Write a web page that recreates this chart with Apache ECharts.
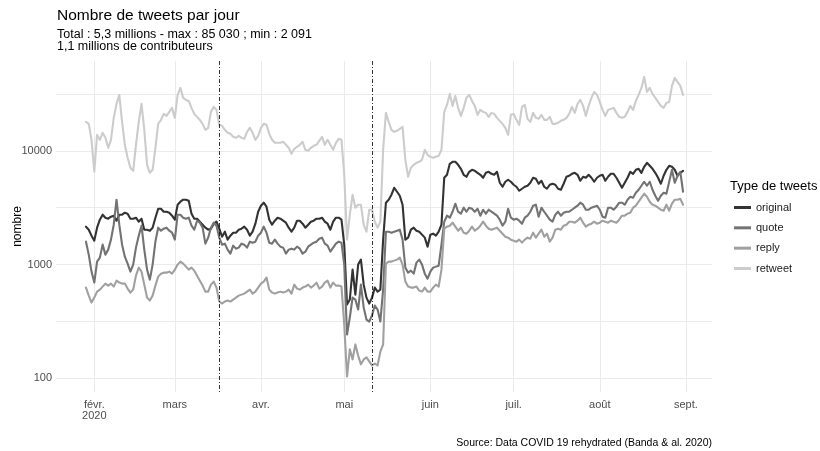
<!DOCTYPE html>
<html>
<head>
<meta charset="utf-8">
<script src="https://cdn.jsdelivr.net/npm/echarts@6/dist/echarts.min.js"></script>
<style>
  html, body { margin: 0; padding: 0; background: #ffffff; }
  #chart { width: 820px; height: 451px; }
</style>
</head>
<body>
<div id="chart"></div>
<script>
// Daily tweet counts per tweet type, starting 2020-01-29
const startDate = [2020, 0, 29];
const typeNames = ['original', 'quote', 'reply', 'retweet'];
const typeColors = ['#333333', '#737373', '#A0A0A0', '#CCCCCC'];

const original = [2154,2027,1796,1624,2111,2481,2744,2583,2531,2636, 2689,2431,2744,2744,2857,2800,2531,2531,2583,2382,
  2531,2027,2027,1987,2111,2583,3097,3097,2915,2915, 2857,2689,2481,3360,3569,3717,3717,3642,2800,2531,
  2531,2382,2242,2111,2027,2069,2288,2382,2069,1760, 1947,1657,1796,1908,1908,2027,2069,2154,2027,1796,
  1947,2288,2915,3293,3498,3227,2481,2242,2431,2583, 2531,2431,2335,2111,1947,2111,2431,2431,2288,2111,
  2242,2382,2431,2531,2531,2583,2382,2288,2027,2382, 2583,2583,2481,1498,446,493,903,545,1000,1106,
  667,513,455,513,628,579,603,1657,3498,3717, 4111,4735,4368,4029,3360,1657,1725,2027,2111,1987,
  1947,1833,1725,1438,1833,1870,1796,1947,2242,5794, 6156,7686,8003,8003,7533,6948,6156,5912,6540,6810,
  6673,6409,6156,5794,6409,6540,6281,6156,6540,5238, 4832,5345,5565,5345,5031,4832,4457,4641,4832,4930,
  5238,5794,5678,5133,5454,4832,4641,5031,5133,5031, 4641,4548,5133,5912,6033,6281,6409,6156,5454,5912,
  5794,6156,5794,5345,5794,6033,6156,5454,5912,6281, 6281,5794,5238,4735,5238,5794,6540,6281,6810,6948,
  6409,7235,7843,7382,6948,6409,5794,5133,6033,6810, 7382,7235,6810,6033,6409,6673];

const quote = [1591,1224,868,695,1063,1152,1498,1224,1354,1657, 2242,3717,2242,1498,1175,1020,868,1000,1410,1796,
  2198,1354,903,738,1000,1591,2111,1987,2069,2111, 1987,1908,1657,2744,2744,2583,2531,2583,2198,2027,
  2431,2335,2111,1528,1725,2111,2335,2198,1725,1498, 1528,1354,1249,1468,1381,1410,1528,1498,1410,1591,
  1559,1591,1796,1908,2154,1908,1559,1528,1657,1528, 1438,1410,1249,1354,1381,1354,1438,1381,1249,1300,
  1438,1498,1559,1591,1690,1725,1528,1468,1300,1410, 1528,1591,1559,1000,243,343,513,493,403,667,
  420,329,316,357,437,403,316,603,1947,1947, 1908,1947,1987,2027,1657,941,850,885,833,1041,
  1106,1000,833,753,868,941,960,979,1498,2382, 2689,2583,2915,3428,2915,2800,3162,2915,3162,3097,
  2915,3097,2689,3035,2800,3035,2915,2800,2689,2481, 2198,2382,3097,2583,2481,2531,2431,2288,2583,2689,
  2915,3293,3360,2636,3162,2915,2689,2481,2382,2744, 2915,2689,2857,2915,2915,3035,3162,3293,3498,3360,
  3035,3035,3162,3227,3293,3035,2636,2583,3162,3162, 3035,3227,3498,3498,3360,3717,3949,3870,4281,4548,
  4930,5345,4930,5345,4548,4029,3642,4029,4281,4195, 5345,6810,5238,6033,6540,4368];

const reply = [628,534,464,513,579,603,641,681,654,681, 641,723,695,681,681,616,568,603,800,941,
  868,667,513,483,534,654,784,833,850,850, 868,833,903,1000,1063,1020,960,903,941,885,
  800,723,654,579,579,667,709,628,474,455, 474,483,474,493,513,534,545,556,579,603,
  556,579,628,681,709,769,603,568,556,568, 579,568,579,603,556,667,616,603,628,641,
  667,628,654,695,616,641,695,723,628,695, 654,654,641,297,104,180,147,199,159,133,
  147,153,141,130,135,130,172,199,1020,1063, 1063,1084,1106,1152,1000,709,641,628,628,641,
  591,579,628,579,579,628,667,641,903,2069, 2154,2198,2335,2154,1987,2111,1908,1870,1987,2154,
  1987,2069,2198,2382,2198,2069,2027,2069,2111,1987, 1870,1760,1725,1657,1624,1591,1657,1559,1657,1725,
  1690,1908,1725,1870,2027,1760,1870,1591,1725,2027, 2069,2027,2198,2242,2382,2382,2335,2431,2583,2335,
  2154,2242,2288,2382,2288,2335,2431,2382,2335,2431, 2382,2335,2481,2689,2689,2800,2857,3162,3293,3569,
  3870,4195,3949,3569,3360,3293,3162,3035,2975,3360, 2975,3428,3717,3717,3792,3360];

const retweet = [17959,17248,12487,6540,13813,12487,14382,13001,10625,12487, 19469,25828,30973,17959,11288,8676,7090,6673,11288,17959,
  25828,15281,7533,6409,6810,10625,17248,18699,21107,20272, 21976,23824,19469,30973,35694,29153,28000,27440,23824,21107,
  19866,18699,17248,15281,15910,21976,24310,22882,16904,16566, 15281,14382,14095,13267,13001,13537,13001,12742,14676,15910,
  14382,12487,13537,15910,17248,16904,14095,12487,11753,11753, 11753,11993,11288,10625,9405,10412,10841,11288,11993,10204,
  10000,10625,11062,11288,12237,13267,11288,12487,11288,10204, 11753,12742,12487,6156,1657,2744,4111,3162,3360,3360,
  2242,1947,3035,3035,2382,2111,2382,10204,21537,17959, 15281,14676,14975,15592,16235,8332,5912,7090,7533,7843,
  8003,8332,10204,9217,8853,8676,8853,9033,10204,21976, 25312,31623,24806,30354,23824,20272,23824,29153,30973,27440,
  24806,20685,22882,21976,21537,19866,21537,21107,19469,18325, 17248,15910,13813,20685,21107,18699,16904,24310,25312,19080,
  17959,21537,19469,19080,20685,18699,18699,19866,17248,17248, 17600,18325,18699,19469,21107,24310,21537,25828,28000,24806,
  20272,24806,29153,32926,30973,26892,22882,20272,22882,23348, 23824,21537,19866,19469,19866,21976,24806,22882,27440,30973,
  35694,44569,32926,35694,31623,29153,26892,24806,23824,26355, 26892,37165,43678,40290,37165,30973];

// Confinement start / end
const eventDates = [[2020, 2, 17], [2020, 4, 11]];
const monthLabels = ['janv.', 'févr.', 'mars', 'avr.', 'mai', 'juin', 'juil.', 'août', 'sept.', 'oct.', 'nov.', 'déc.'];
// half-decade grid lines of the log scale
const minorGrid = [316.2278, 3162.278, 31622.78];

const seriesValues = [original, quote, reply, retweet];

const dayTimes = original.map((_, i) =>
  new Date(startDate[0], startDate[1], startDate[2] + i).getTime());

const xMin = new Date(2020, 0, 18, 5).getTime();
const xMax = new Date(2020, 8, 10, 10).getTime();
const DAY = 86400000;

const chart = echarts.init(document.getElementById('chart'), null, { renderer: 'canvas' });

const lineSeries = typeNames.map((name, k) => ({
  name: name,
  type: 'line',
  data: seriesValues[k].map((v, i) => [dayTimes[i], v]),
  showSymbol: false,
  symbol: 'none',
  z: 3,
  lineStyle: { width: 2.1, color: typeColors[k], join: 'round', cap: 'round' },
  itemStyle: { color: typeColors[k] },
  emphasis: { disabled: true }
}));

const option = {
  animation: false,
  backgroundColor: '#ffffff',
  textStyle: { fontFamily: 'Liberation Sans, Arial, sans-serif' },
  title: [
    {
      text: 'Nombre de tweets par jour',
      subtext: 'Total : 5,3 millions - max : 85 030 ; min : 2 091\n1,1 millions de contributeurs',
      left: 57, top: 8, padding: 0, itemGap: 5,
      textStyle: { fontSize: 15.5, fontWeight: 'normal', color: '#000000' },
      subtextStyle: { fontSize: 12.5, color: '#000000', lineHeight: 12 }
    },
    {
      text: 'Type de tweets',
      left: 730, top: 180, padding: 0,
      textStyle: { fontSize: 13, fontWeight: 'normal', color: '#000000' }
    },
    {
      text: 'Source: Data COVID 19 rehydrated (Banda & al. 2020)',
      right: 108, top: 438, padding: 0,
      textStyle: { fontSize: 10.5, fontWeight: 'normal', color: '#000000' }
    }
  ],
  legend: {
    orient: 'vertical',
    left: 734, top: 202,
    padding: 0,
    itemWidth: 17, itemHeight: 3, itemGap: 9.33,
    icon: 'rect',
    selectedMode: false,
    data: typeNames,
    textStyle: { fontSize: 11, color: '#1A1A1A' }
  },
  grid: { left: 56, right: 108, top: 61, bottom: 59, containLabel: false, outerBoundsMode: 'none' },
  xAxis: {
    type: 'time',
    min: xMin, max: xMax,
    splitNumber: 8,
    minInterval: 28 * DAY,
    maxInterval: 31 * DAY,
    axisLine: { show: false },
    axisTick: { show: false },
    splitLine: { show: true, showMinLine: false, showMaxLine: false, lineStyle: { color: '#EBEBEB', width: 1 } },
    axisLabel: {
      color: '#4D4D4D', fontSize: 11, lineHeight: 11, margin: 7,
      hideOverlap: false,
      formatter: function (v) {
        const d = new Date(v);
        const m = monthLabels[d.getMonth()];
        return d.getMonth() === 1 ? m + '\n' + d.getFullYear() : m;
      }
    }
  },
  yAxis: {
    type: 'log', logBase: 10,
    min: 76, max: 61500,
    axisLine: { show: false },
    axisTick: { show: false },
    splitLine: { show: true, showMinLine: false, showMaxLine: false, lineStyle: { color: '#EBEBEB', width: 1 } },
    axisLabel: {
      color: '#4D4D4D', fontSize: 11, margin: 4,
      formatter: function (v) {
        const e = Math.log10(v);
        return Math.abs(e - Math.round(e)) < 1e-6 ? String(Math.round(v)) : '';
      }
    },
    name: 'nombre', nameLocation: 'middle', nameGap: 32, nameMoveOverlap: false,
    nameTextStyle: { color: '#000000', fontSize: 12 }
  },
  series: [
    {
      type: 'line', data: [], silent: true, z: 1,
      markLine: {
        silent: true, z: 1, symbol: 'none', animation: false,
        label: { show: false },
        lineStyle: { color: '#EBEBEB', type: 'solid', width: 1 },
        data: minorGrid.map(v => ({ yAxis: v }))
      }
    }
  ].concat(lineSeries).concat([
    {
      type: 'line', data: [], silent: true, z: 6,
      markLine: {
        silent: true, z: 6, symbol: 'none', animation: false,
        label: { show: false },
        lineStyle: { color: '#000000', type: [1, 2, 4, 2], width: 0.8 },
        data: eventDates.map(d => ({ xAxis: new Date(d[0], d[1], d[2]).getTime() }))
      }
    }
  ])
};

chart.setOption(option);
</script>
</body>
</html>
